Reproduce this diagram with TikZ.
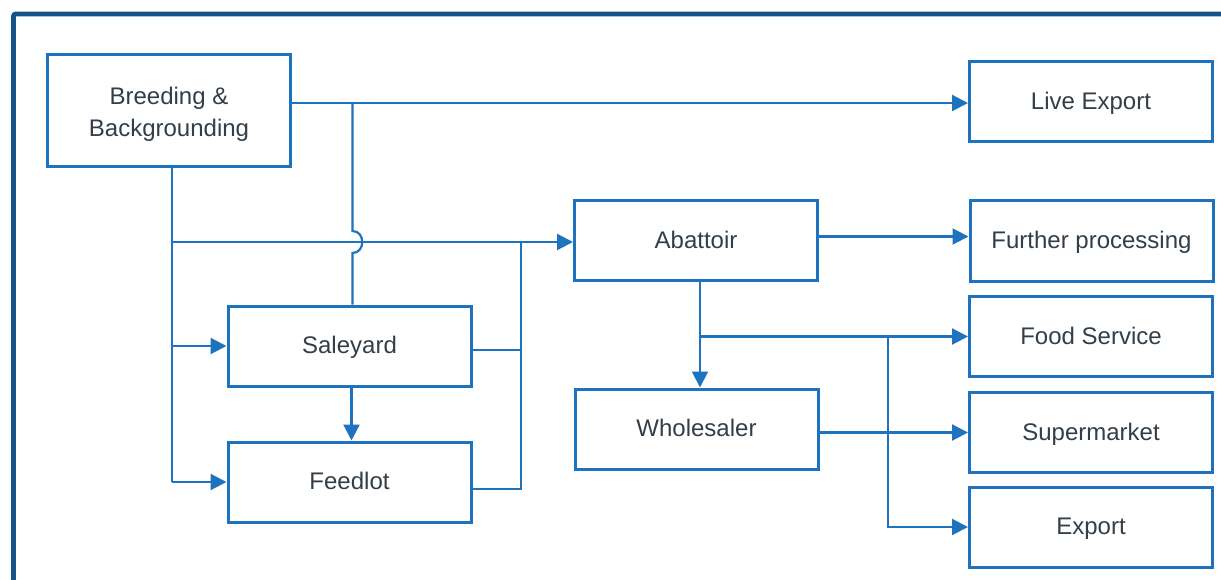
\documentclass[tikz,border=0pt]{standalone}
\usepackage{fontspec}
\setmainfont{Liberation Sans}
\usetikzlibrary{arrows.meta,calc}
\definecolor{lineblue}{RGB}{30,115,190}
\definecolor{frameblue}{RGB}{21,82,136}
\definecolor{txt}{RGB}{50,62,72}
\tikzset{
  box/.style={draw=lineblue, line width=3pt, fill=white, rectangle,
    minimum width=243pt, minimum height=80pt, inner sep=0pt,
    text height=21.6pt, text depth=5.8pt,
    text=txt, font=\fontsize{24}{32}\selectfont, align=center},
  conn/.style={draw=lineblue, line width=2.2pt},
  arr/.style={-{Triangle[length=16pt,width=16pt]}},
  frame/.style={draw=frameblue, line width=4.6pt, rounded corners=2pt},
}
\begin{document}
\begin{tikzpicture}[x=1pt,y=-1pt]
\useasboundingbox (0,0) rectangle (1221,580);
\clip (0,0) rectangle (1221,580);
\draw[frame] (13.5,620) -- (13.5,14) -- (1260,14);

% nodes
\node[box, minimum height=112pt] (breed) at (169,110.5) {};
\node[text=txt, font=\fontsize{24}{32}\selectfont, align=center] (breedtxt) at (169,114) {Breeding \&\\Backgrounding};
\node[box] (live)    at (1091,101.5) {Live Export};
\node[box] (abat)    at (696,240.5)  {Abattoir};
\node[box] (further) at (1091.5,241) {Further processing};
\node[box] (food)    at (1091,336.5) {Food Service};
\node[box] (super)   at (1091,432.5) {Supermarket};
\node[box] (export)  at (1091,527)   {Export};
\node[box] (sale)    at (349.5,346)  {Saleyard};
\node[box] (feed)    at (349.5,482)  {Feedlot};
\node[box] (whole)   at (696.5,429)  {Wholesaler};

% Breeding -> Live Export
\coordinate (lIn) at ($(live.west)+(0,1.5)$);
\draw[conn,arr] (breed.east |- lIn) -- (lIn);

% Saleyard up to the Live Export line, hopping over the Abattoir line
\coordinate (sU) at ($(sale.north)+(3,0)$);
\coordinate (h1) at (352.5,253);
\coordinate (h2) at (352.5,231);
\draw[conn] (sU) -- (h1) .. controls +(13,0) and +(13,0) .. (h2) -- (h2 |- lIn);

% left bus from Breeding
\coordinate (cL) at ($(breed.south)+(3,0)$);
\coordinate (aIn) at ($(abat.west)+(0,1.5)$);
\draw[conn] (cL) -- (cL |- feed.west);
\draw[conn,arr] (cL |- aIn) -- (aIn);
\draw[conn,arr] (cL |- sale.west) -- (sale.west);
\draw[conn,arr] (cL |- feed.west) -- (feed.west);

% Saleyard / Feedlot to Abattoir line
\coordinate (cR) at (521,242);
\draw[conn] ($(sale.east)+(0,4)$) -| (cR);
\draw[conn] ($(feed.east)+(0,7)$) -| (cR);

% Saleyard -> Feedlot
\coordinate (sd) at ($(sale.south)+(2,0)$);
\draw[conn,arr] (sd) -- (sd |- feed.north);

% Abattoir -> Further processing
\coordinate (aOut) at ($(abat.east)+(0,-4)$);
\draw[conn,arr] (aOut) -- (aOut -| further.west);

% Abattoir -> Wholesaler, Food Service, Export
\coordinate (aD) at ($(abat.south)+(4,0)$);
\draw[conn,arr] (aD) -- (aD |- whole.north);
\coordinate (jF) at (700,336.5);
\draw[conn,arr] (jF) -- (food.west);
\coordinate (jE) at (888,336.5);
\draw[conn,arr] (jE) |- (export.west);

% Wholesaler -> Supermarket
\draw[conn,arr] (whole.east |- super.west) -- (super.west);
\end{tikzpicture}
\end{document}
